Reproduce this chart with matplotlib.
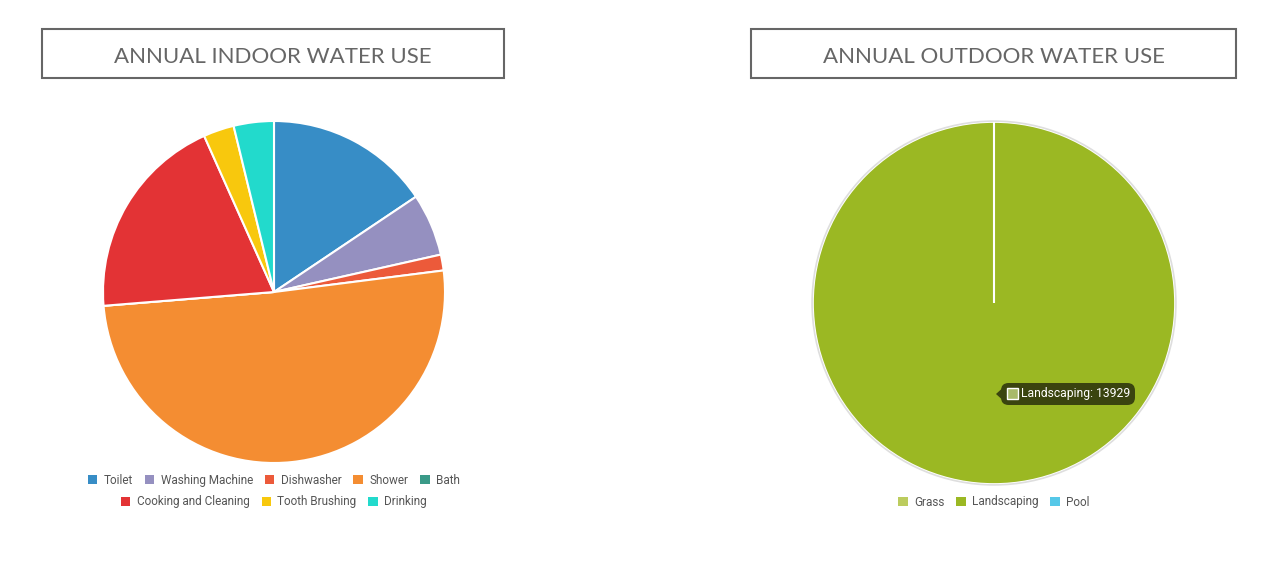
import matplotlib
matplotlib.use('Agg')
import matplotlib.pyplot as plt
from matplotlib.patches import Rectangle, FancyBboxPatch, Polygon, Circle

W, H = 1263, 572

# indoor water use (gallons per year)
indoor_labels = ['Toilet', 'Washing Machine', 'Dishwasher', 'Shower', 'Bath',
                 'Cooking and Cleaning', 'Tooth Brushing', 'Drinking']
indoor_values = [6240, 2360, 600, 20300, 0, 7840, 1160, 1520]
indoor_colors = ['#378dc6', '#9590c0', '#ec5a3a', '#f48d32', '#3a9a88',
                 '#e33335', '#f8c80d', '#22dacc']

# outdoor water use
outdoor_labels = ['Grass', 'Landscaping', 'Pool']
outdoor_values = [0, 13929, 0]
outdoor_colors = ['#bccc5e', '#9bb823', '#56c8e8']


def px(x, y):
    """pixel (top-down) -> figure fraction"""
    return x / W, 1 - y / H


def box(x0, y0, x1, y1):
    l, t = px(x0, y0)
    r, b = px(x1, y1)
    return [l, b, r - l, t - b]


fig = plt.figure(figsize=(W / 100, H / 100), dpi=100)
fig.patch.set_facecolor('white')

# title boxes
for (x0, x1, text) in [(42, 504, 'ANNUAL INDOOR WATER USE'),
                       (751, 1236, 'ANNUAL OUTDOOR WATER USE')]:
    l, b = px(x0, 78)
    r, t = px(x1, 29)
    fig.patches.append(Rectangle((l, b), r - l, t - b, transform=fig.transFigure,
                                 facecolor='white', edgecolor='#666666', linewidth=1.5))
    fig.text((l + r) / 2, (b + t) / 2 - 0.006, text, ha='center', va='center',
             fontsize=16, color='#666666', family='Lato')

# indoor pie
ax1 = fig.add_axes(box(103, 121, 445, 463))
w1, _ = ax1.pie(indoor_values, colors=indoor_colors, startangle=90, counterclock=False,
                wedgeprops=dict(edgecolor='white', linewidth=1.5), radius=1)
ax1.set_xlim(-1, 1)
ax1.set_ylim(-1, 1)
ax1.set_aspect('equal')
ax1.axis('off')

# outdoor pie
ax2 = fig.add_axes(box(811, 120, 1177, 486))
w2, _ = ax2.pie(outdoor_values, colors=outdoor_colors, startangle=90, counterclock=False,
                wedgeprops=dict(edgecolor='white', linewidth=1.5), radius=1)
ax2.add_patch(Circle((0, 0), 1.004, facecolor='none', edgecolor='#dedede', linewidth=1.2))
ax2.set_xlim(-1.01, 1.01)
ax2.set_ylim(-1.01, 1.01)
ax2.set_aspect('equal')
ax2.axis('off')


def legend(labels, colors, cx, cy):
    handles = [Rectangle((0, 0), 1, 1, facecolor=c, edgecolor='none') for c in colors]
    lg = fig.legend(handles, labels, loc='center', bbox_to_anchor=px(cx, cy), ncol=len(labels),
                    frameon=False, handlelength=0.8, handleheight=0.8,
                    handletextpad=0.55, columnspacing=1.0, borderpad=0, borderaxespad=0,
                    prop={'family': 'Roboto', 'size': 8.5})
    for t in lg.get_texts():
        t.set_color('#555555')
    return lg


legend(indoor_labels[:5], indoor_colors[:5], 274, 480.5)
legend(indoor_labels[5:], indoor_colors[5:], 274, 502)
legend(outdoor_labels, outdoor_colors, 994, 502)

# hover tooltip on the outdoor pie
tip = '#3a440f'
l, b = px(1001, 405)
r, t = px(1135, 383)
fig.patches.append(FancyBboxPatch((l, b), r - l, t - b, transform=fig.transFigure,
                                  boxstyle='round,pad=0,rounding_size=0.006',
                                  facecolor=tip, edgecolor='none', mutation_aspect=W / H))
fig.patches.append(Polygon([px(996, 394), px(1001.5, 389), px(1001.5, 399)],
                           closed=True, transform=fig.transFigure, facecolor=tip, edgecolor='none'))
l, b = px(1007, 399)
r, t = px(1018, 388)
fig.patches.append(Rectangle((l, b), r - l, t - b, transform=fig.transFigure,
                             facecolor='#a8ba6a', edgecolor='white', linewidth=1))
fig.text(*px(1021, 394), f'{outdoor_labels[1]}: {outdoor_values[1]}', ha='left', va='center',
         fontsize=8.7, color='white', family='Roboto')

fig.savefig('out.png', dpi=100, facecolor='white')
